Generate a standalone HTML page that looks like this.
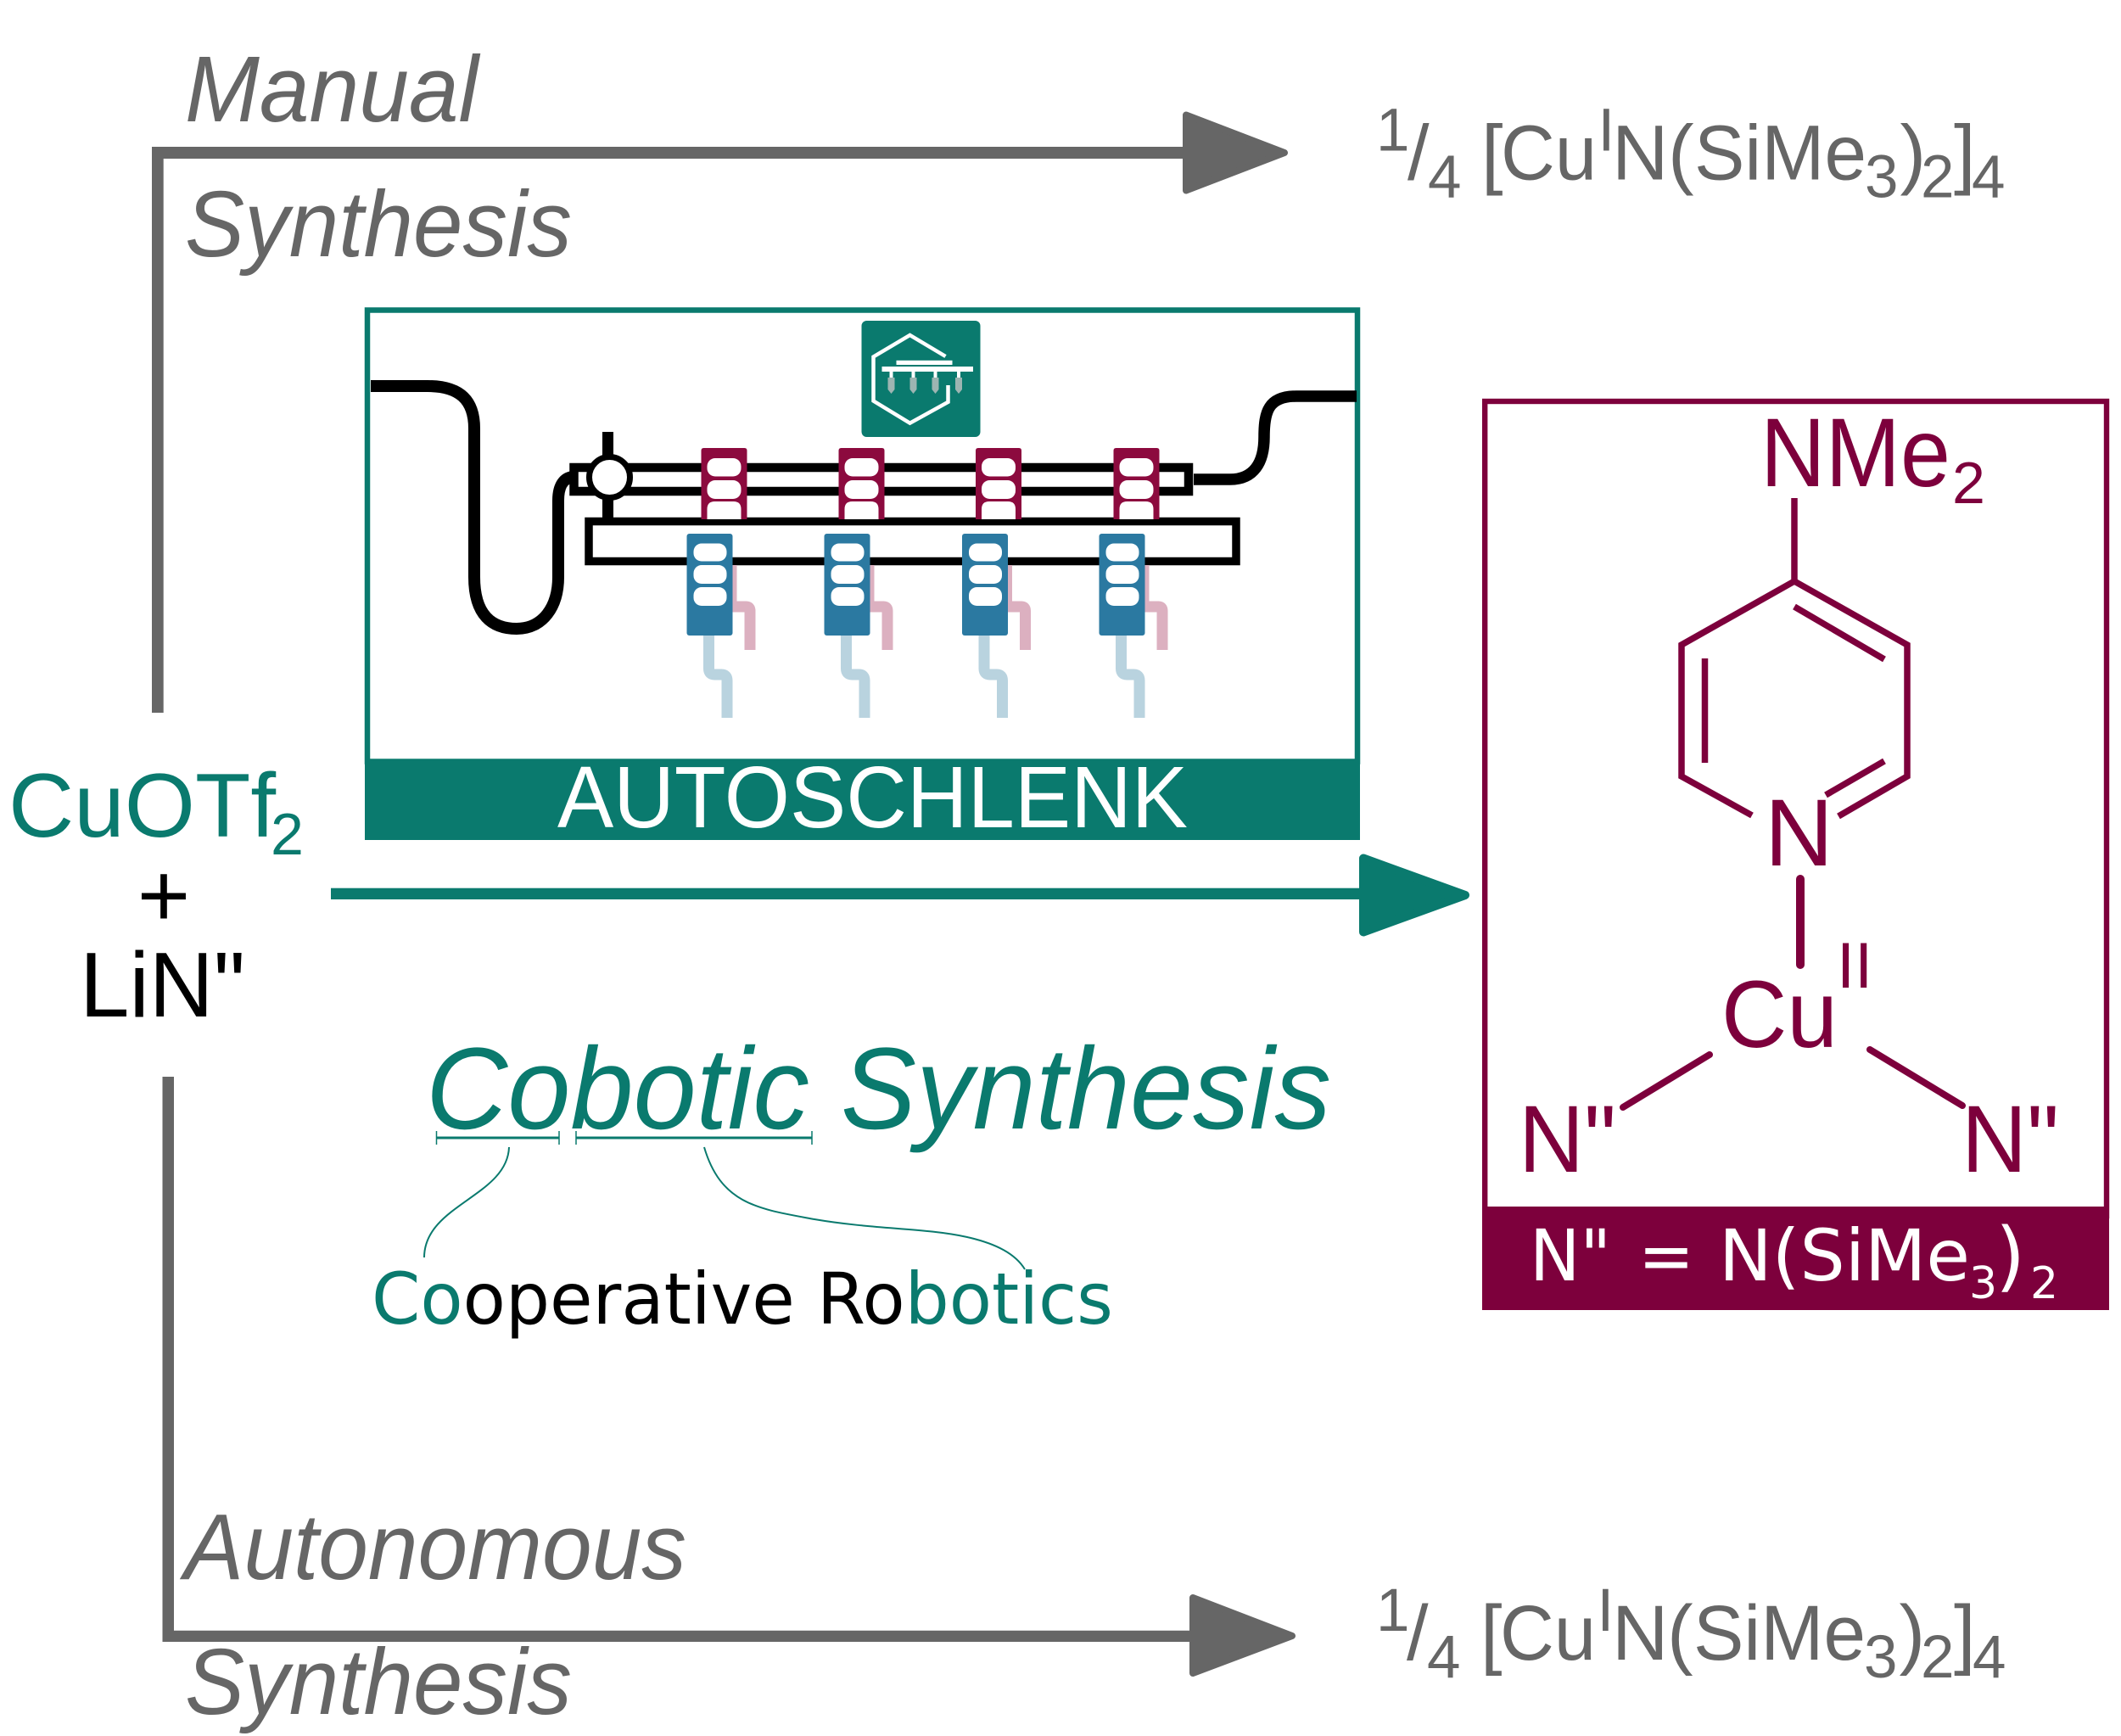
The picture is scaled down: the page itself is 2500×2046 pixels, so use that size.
<!DOCTYPE html>
<html>
<head>
<meta charset="utf-8">
<style>
html,body{margin:0;padding:0;background:#fff}
svg{display:block}
text{font-family:"Liberation Sans",sans-serif}
.i{font-style:italic;fill:#666;font-size:110px}
.g{fill:#666}
.c{fill:#7d003c}
.t{fill:#0a7a6e}
.dj{font-family:"DejaVu Sans",sans-serif}
</style>
</head>
<body>
<svg width="2500" height="2046" viewBox="0 0 2500 2046" xmlns="http://www.w3.org/2000/svg">
<rect width="2500" height="2046" fill="#fff"/>
<defs>
<g id="crim">
<path d="M828 612V531q0-3 3-3h48q3 0 3 3V612Z" fill="#8c0a3e"/>
<rect x="835" y="540" width="40" height="21.500" rx="9.500" fill="#fff"/>
<rect x="835" y="566" width="40" height="22" rx="9.500" fill="#fff"/>
<path d="M835 612V600q0-9 9-9h22q9 0 9 9V612Z" fill="#fff"/>
</g>
<g id="blue">
<rect x="865" y="666" width="5" height="50" fill="#dcb0c0"/>
<path d="M862 715H881Q885.500 715 885.500 720V766" fill="none" stroke="#dcb0c0" stroke-width="13"/>
<path d="M837 745V788Q837 795 844 795H852Q858.500 795 858.500 802V846" fill="none" stroke="#b9d3df" stroke-width="13"/>
<rect x="811" y="629" width="54" height="120" rx="3" fill="#2b79a1"/>
<rect x="819" y="640.500" width="39" height="21" rx="9.500" fill="#fff"/>
<rect x="819" y="666" width="39" height="22" rx="9.500" fill="#fff"/>
<rect x="819" y="692" width="39" height="22" rx="9.500" fill="#fff"/>
</g>
</defs>

<!-- manual arrow -->
<path d="M179 840V173H1400V187H192.700V840Z" fill="#666"/>
<polygon points="1398,135.500 1398,224.500 1514,180" fill="#666" stroke="#666" stroke-width="8" stroke-linejoin="round"/>
<text class="i" x="218" y="143" textLength="346" lengthAdjust="spacingAndGlyphs">Manual</text>
<text class="i" x="218" y="302" textLength="456" lengthAdjust="spacingAndGlyphs">Synthesis</text>

<!-- top product -->
<g class="g" transform="translate(1 -1744.500)">
<text x="1621" y="1922" font-size="71">1</text>
<text x="1658" y="1956" font-size="92">/</text>
<text x="1682" y="1977" font-size="71">4</text>
<text x="1745" y="1956" font-size="92">[</text>
<text x="1768" y="1956" font-size="92" textLength="113" lengthAdjust="spacingAndGlyphs">Cu</text>
<text x="1882.500" y="1922" font-size="71">I</text>
<text x="1899" y="1956" font-size="92">N</text>
<text x="1965" y="1956" font-size="92">(</text>
<text x="1996" y="1956" font-size="92" textLength="203" lengthAdjust="spacingAndGlyphs">SiMe</text>
<text x="2197" y="1977" font-size="71">3</text>
<text x="2238.500" y="1956" font-size="92">)</text>
<text x="2263" y="1977" font-size="71">2</text>
<text x="2302" y="1956" font-size="92">]</text>
<text x="2323" y="1977" font-size="71">4</text>
</g>

<!-- Autoschlenk box -->
<rect x="433" y="365.500" width="1167" height="532" fill="#fff" stroke="#0a7a6e" stroke-width="6.500"/>
<rect x="430" y="897" width="1173" height="93" fill="#0a7a6e"/>
<text x="657" y="975" font-size="103" fill="#fff" textLength="743" lengthAdjust="spacingAndGlyphs">AUTOSCHLENK</text>

<g transform="translate(-1.500 0)">
<!-- icon -->
<rect x="1017" y="378" width="140" height="137" rx="6" fill="#0a7a6e"/>
<g fill="none" stroke="#fff" stroke-width="4.500">
<path d="M1116 420L1074 395L1031 420.500V472.500L1074 498.700L1119 473.800V454"/>
</g>
<rect x="1058" y="424.800" width="66" height="5.200" fill="#fff"/>
<rect x="1041" y="432" width="107.500" height="6" fill="#fff"/>
<g fill="#fff">
<rect x="1050" y="438" width="4" height="8"/><rect x="1076" y="438" width="4" height="8"/><rect x="1102" y="438" width="4" height="8"/><rect x="1129.500" y="438" width="4" height="8"/>
</g>
<g fill="#9db5b2">
<path d="M1048 445h8v14l-4 5l-4-5Z"/><path d="M1074 445h8v14l-4 5l-4-5Z"/><path d="M1100 445h8v14l-4 5l-4-5Z"/><path d="M1127.500 445h8v14l-4 5l-4-5Z"/>
</g>
</g>

<!-- tubing -->
<g fill="none" stroke="#000">
<path d="M437 455H504C540 455 559 470 559 505V680C559 725 580 741 609 741C640 741 658 715 658 680V590C658 572 665 562 677 562" stroke-width="14"/>
<path d="M1407 565H1450C1478 565 1490 545 1490 515C1490 485 1495 467 1528 467H1599" stroke-width="13.500"/>
<g transform="translate(-1.500 0)">
<rect x="678" y="551" width="724.500" height="28" stroke-width="10.500"/>
<rect x="695.500" y="614.500" width="763" height="47" stroke-width="9.500"/>
</g>
</g>
<g transform="translate(-1.500 0)">
<rect x="711.500" y="509" width="13" height="102" fill="#000"/>
<circle cx="720" cy="562.500" r="24" fill="#fff" stroke="#000" stroke-width="7"/>

<!-- blocks -->
<use href="#crim"/>
<use href="#crim" x="162"/>
<use href="#crim" x="323.500"/>
<use href="#crim" x="486"/>
<use href="#blue"/>
<use href="#blue" x="162"/>
<use href="#blue" x="324.500"/>
<use href="#blue" x="486"/>
</g>

<!-- left reagents -->
<text x="10" y="986" font-size="107" class="t">CuOTf</text>
<text x="319" y="1007" font-size="70" class="t">2</text>
<text x="193" y="1092" font-size="107" text-anchor="middle">+</text>
<text x="94" y="1198" font-size="109" fill="#000" textLength="195" lengthAdjust="spacingAndGlyphs">LiN"</text>

<!-- teal arrow -->
<rect x="390" y="1046.700" width="1220" height="13.300" fill="#0a7a6e"/>
<polygon points="1607,1011.500 1607,1098.500 1727,1055" fill="#0a7a6e" stroke="#0a7a6e" stroke-width="10" stroke-linejoin="round"/>

<!-- cobotic -->
<text x="502" y="1330" font-size="137" font-style="italic" class="t" textLength="1067" lengthAdjust="spacingAndGlyphs">Cobotic Synthesis</text>
<g stroke="#0a7a6e" fill="none">
<path d="M514 1341H659M679 1341H957" stroke-width="3"/>
<path d="M514.500 1333V1349M659 1333V1349M679 1333V1349M957 1333V1349" stroke-width="1.500"/>
<path d="M600 1352C598 1410 500 1420 500 1482" stroke-width="2"/>
<path d="M830 1352C850 1420 895 1425 960 1437C1030 1449 1090 1447 1140 1458C1175 1466 1197 1478 1208 1496" stroke-width="2"/>
</g>
<text x="438" y="1560" font-size="84" class="dj" textLength="874" lengthAdjust="spacingAndGlyphs"><tspan class="t">Co</tspan><tspan fill="#000">operative Ro</tspan><tspan class="t">botics</tspan></text>

<!-- autonomous arrow -->
<path d="M191.500 1269H205V1921.700H1405V1935H191.500Z" fill="#666"/>
<polygon points="1406,1883 1406,1972 1523,1928" fill="#666" stroke="#666" stroke-width="8" stroke-linejoin="round"/>
<text class="i" x="217" y="1861" textLength="592" lengthAdjust="spacingAndGlyphs">Autonomous</text>
<text class="i" x="218" y="2020" textLength="456" lengthAdjust="spacingAndGlyphs">Synthesis</text>

<g class="g">
<text x="1622" y="1922" font-size="71">1</text>
<text x="1658" y="1956" font-size="92">/</text>
<text x="1682" y="1977" font-size="71">4</text>
<text x="1745" y="1956" font-size="92">[</text>
<text x="1768" y="1956" font-size="92" textLength="113" lengthAdjust="spacingAndGlyphs">Cu</text>
<text x="1882.500" y="1922" font-size="71">I</text>
<text x="1900" y="1956" font-size="92">N</text>
<text x="1965" y="1956" font-size="92">(</text>
<text x="1996" y="1956" font-size="92" textLength="203" lengthAdjust="spacingAndGlyphs">SiMe</text>
<text x="2197" y="1977" font-size="71">3</text>
<text x="2238.500" y="1956" font-size="92">)</text>
<text x="2264" y="1977" font-size="71">2</text>
<text x="2303" y="1956" font-size="92">]</text>
<text x="2325" y="1977" font-size="71">4</text>
</g>

<!-- right panel -->
<rect x="1750.200" y="473" width="732.800" height="960" fill="#fff" stroke="#7d003c" stroke-width="6.400"/>
<rect x="1747" y="1422" width="739" height="122" fill="#7d003c"/>
<g class="c">
<text x="2075" y="573" font-size="115" textLength="224" lengthAdjust="spacingAndGlyphs">NMe</text>
<text x="2301" y="593" font-size="70">2</text>
<text x="2080" y="1020" font-size="112">N</text>
<text x="2029" y="1234" font-size="112" textLength="137" lengthAdjust="spacingAndGlyphs">Cu</text>
<text x="2165" y="1164" font-size="76">II</text>
<text x="1790" y="1381" font-size="112" textLength="115" lengthAdjust="spacingAndGlyphs">N"</text>
<text x="2312" y="1381" font-size="112" textLength="115" lengthAdjust="spacingAndGlyphs">N"</text>
</g>
<g fill="none" stroke="#7d003c" stroke-width="7.500">
<path d="M2115 587V685"/>
<path d="M2065 961L1982 915V760L2115 685L2248 760V915L2167 962"/>
<path d="M2115 715L2221 777M2009.500 776V899M2152 937L2221 897"/>
<path d="M2122 1036V1137" stroke-width="10" stroke-linecap="round"/>
<path d="M2015 1243L1913 1305" stroke-width="8" stroke-linecap="round"/>
<path d="M2204 1237L2313 1303" stroke-width="8" stroke-linecap="round"/>
</g>
<g fill="#fff" class="dj">
<text x="1803" y="1509" font-size="84" class="dj" textLength="96" lengthAdjust="spacingAndGlyphs">N"</text>
<text x="1931" y="1509" font-size="84" class="dj" textLength="66" lengthAdjust="spacingAndGlyphs">=</text>
<text x="2026" y="1509" font-size="84" class="dj" textLength="296" lengthAdjust="spacingAndGlyphs">N(SiMe</text>
<text x="2321" y="1530" font-size="52" class="dj">3</text>
<text x="2352" y="1511" font-size="90" class="dj">)</text>
<text x="2393" y="1530" font-size="52" class="dj">2</text>
</g>
</svg>
</body>
</html>
